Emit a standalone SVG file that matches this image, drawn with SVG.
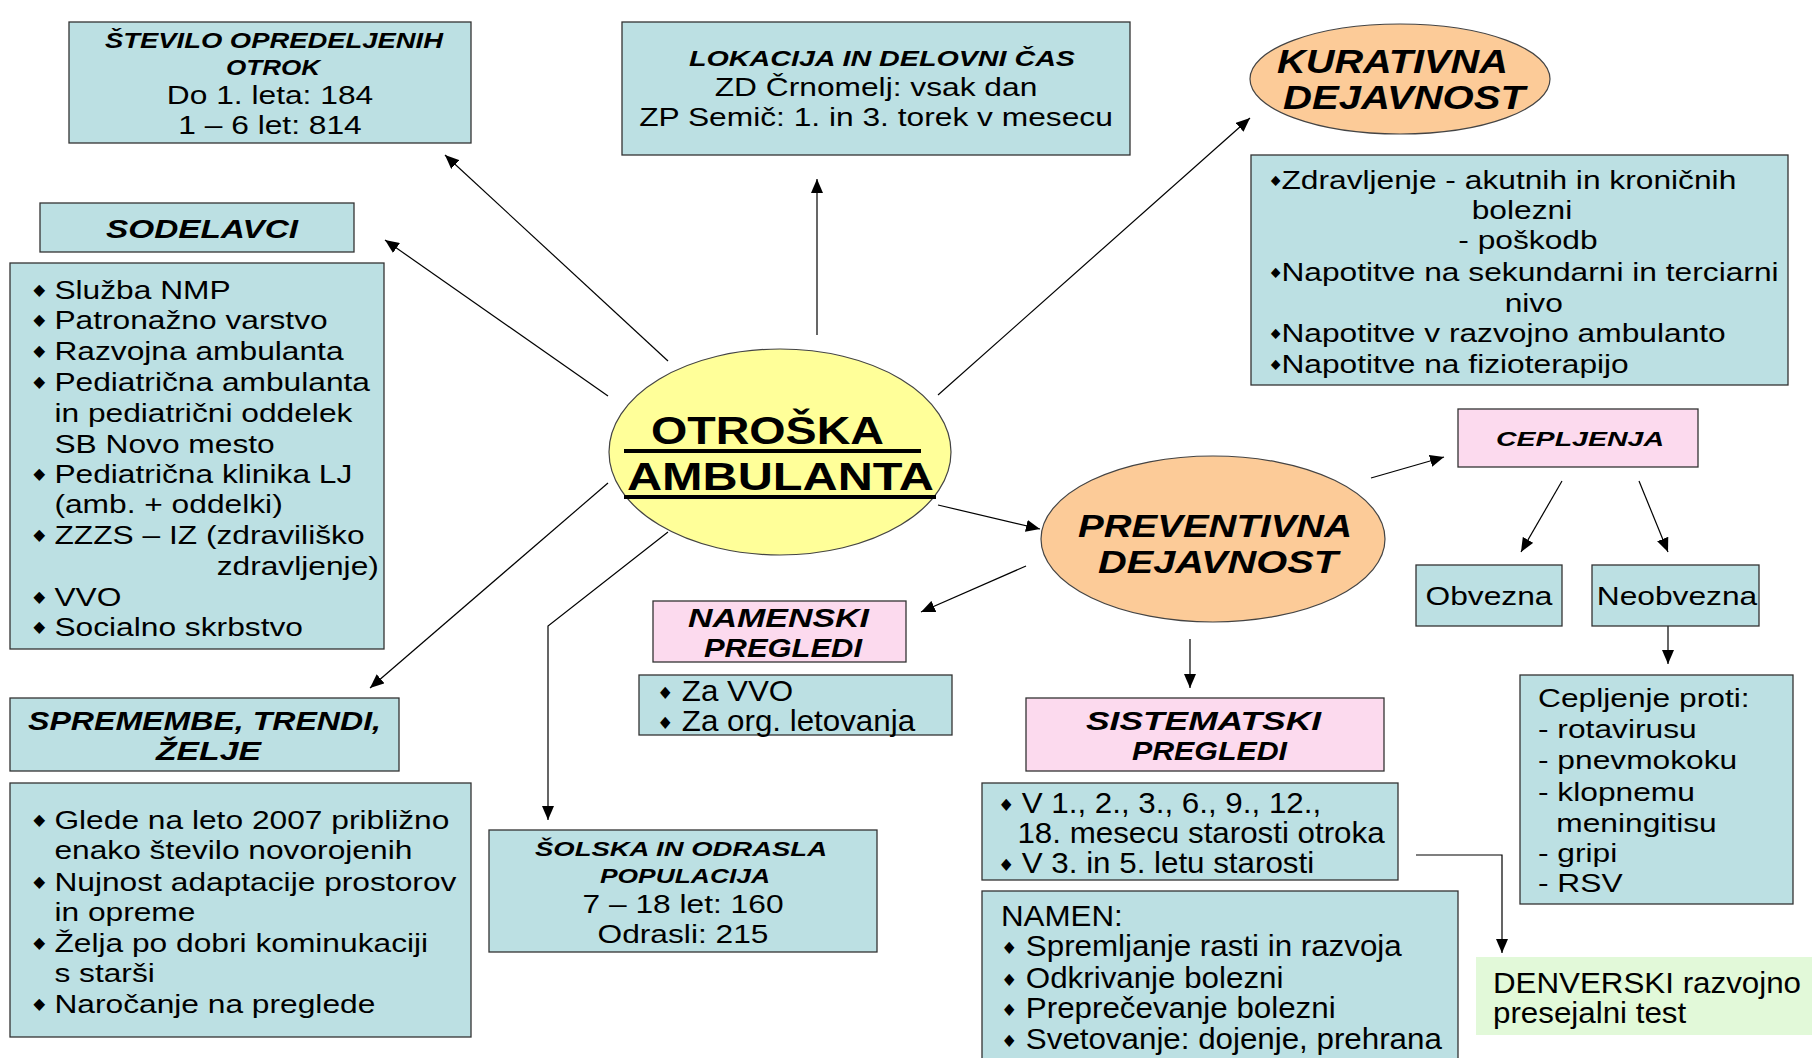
<svg xmlns="http://www.w3.org/2000/svg" width="1812" height="1058" viewBox="0 0 1812 1058">
<style>
.bx{fill:#bce0e3;stroke:#333;stroke-width:1.3}
.pk{fill:#fcdaee;stroke:#333;stroke-width:1.3}
.gr{fill:#e2f9d9;stroke:none}
.or{fill:#fccb98;stroke:#444;stroke-width:1.2}
.ye{fill:#ffff99;stroke:#444;stroke-width:1.2}
.ti{font-family:"Liberation Sans",Arial,sans-serif;font-weight:bold;font-style:italic;fill:#000}
.ce{font-family:"Liberation Sans",Arial,sans-serif;font-weight:bold;fill:#000}
.t{font-family:"Liberation Sans",Arial,sans-serif;font-size:26px;fill:#000}
.n{font-family:"Liberation Sans",Arial,sans-serif;font-size:29px;fill:#000}
.b{font-family:"DejaVu Sans",sans-serif;font-size:17px}
.bs{font-family:"DejaVu Sans",sans-serif;font-size:14px}
.c{text-anchor:middle}
.ln{fill:none;stroke:#000;stroke-width:1.2}
.ul{stroke:#000;stroke-width:4}
</style>
<defs>
<marker id="ah" viewBox="0 0 14 12" refX="14" refY="6" markerWidth="14" markerHeight="12" orient="auto" markerUnits="userSpaceOnUse"><path d="M0,0 L14,6 L0,12 z" fill="#000"/></marker>
</defs>

<g id="connectors">
<line class="ln" x1="668" y1="361" x2="445" y2="155" marker-end="url(#ah)"/>
<line class="ln" x1="608" y1="396" x2="385" y2="240" marker-end="url(#ah)"/>
<line class="ln" x1="817" y1="335" x2="817" y2="179" marker-end="url(#ah)"/>
<line class="ln" x1="938" y1="395" x2="1250" y2="118" marker-end="url(#ah)"/>
<line class="ln" x1="608" y1="483" x2="370" y2="688" marker-end="url(#ah)"/>
<polyline class="ln" points="668,532 548,626 548,820" marker-end="url(#ah)"/>
<line class="ln" x1="938" y1="505" x2="1040" y2="529" marker-end="url(#ah)"/>
<line class="ln" x1="1026" y1="566" x2="921" y2="612" marker-end="url(#ah)"/>
<line class="ln" x1="1190" y1="639" x2="1190" y2="688" marker-end="url(#ah)"/>
<line class="ln" x1="1371" y1="478" x2="1444" y2="457" marker-end="url(#ah)"/>
<line class="ln" x1="1562" y1="481" x2="1521" y2="552" marker-end="url(#ah)"/>
<line class="ln" x1="1639" y1="481" x2="1668" y2="552" marker-end="url(#ah)"/>
<line class="ln" x1="1668" y1="626" x2="1668" y2="664" marker-end="url(#ah)"/>
<polyline class="ln" points="1416,855 1502,855 1502,953" marker-end="url(#ah)"/>
</g>

<g id="stevilo">
<rect class="bx" x="69" y="22" width="402" height="121"/>
<text class="ti c" x="274" y="48" font-size="22" textLength="338" lengthAdjust="spacingAndGlyphs">ŠTEVILO OPREDELJENIH</text>
<text class="ti c" x="273" y="75" font-size="22" textLength="94" lengthAdjust="spacingAndGlyphs">OTROK</text>
<text class="t c" transform="translate(270 104) scale(1.22 1)">Do 1. leta: 184</text>
<text class="t c" transform="translate(270 134) scale(1.22 1)">1 – 6 let: 814</text>
</g>

<g id="lokacija">
<rect class="bx" x="622" y="22" width="508" height="133"/>
<text class="ti c" x="882" y="66" font-size="22" textLength="386" lengthAdjust="spacingAndGlyphs">LOKACIJA IN DELOVNI ČAS</text>
<text class="t c" transform="translate(876 96) scale(1.22 1)">ZD Črnomelj: vsak dan</text>
<text class="t c" transform="translate(876 126) scale(1.22 1)">ZP Semič: 1. in 3. torek v mesecu</text>
</g>

<g id="kurativna">
<ellipse class="or" cx="1400" cy="79" rx="150" ry="55"/>
<text class="ti" x="1277" y="73" font-size="34" textLength="231" lengthAdjust="spacingAndGlyphs">KURATIVNA</text>
<text class="ti" x="1283" y="109" font-size="34" textLength="242" lengthAdjust="spacingAndGlyphs">DEJAVNOST</text>
</g>

<g id="kurativna-list">
<rect class="bx" x="1251" y="155" width="537" height="230"/>
<g transform="translate(1268 0) scale(1.22 1)">
<text class="bs" x="0" y="186">♦</text><text class="t" x="11" y="189">Zdravljenje - akutnih in kroničnih</text>
<text class="t" x="167" y="219">bolezni</text>
<text class="t" x="156" y="249">- poškodb</text>
<text class="bs" x="0" y="278">♦</text><text class="t" x="11" y="281">Napotitve na sekundarni in terciarni</text>
<text class="t" x="194" y="312">nivo</text>
<text class="bs" x="0" y="339">♦</text><text class="t" x="11" y="342">Napotitve v razvojno ambulanto</text>
<text class="bs" x="0" y="370">♦</text><text class="t" x="11" y="373">Napotitve na fizioterapijo</text>
</g>
</g>

<g id="sodelavci">
<rect class="bx" x="40" y="203" width="314" height="49"/>
<text class="ti" x="106" y="238" font-size="26" textLength="192" lengthAdjust="spacingAndGlyphs">SODELAVCI</text>
</g>

<g id="sodelavci-list">
<rect class="bx" x="10" y="263" width="374" height="386"/>
<g transform="translate(30 0) scale(1.22 1)">
<text class="b" x="0" y="297">♦</text><text class="t" x="20" y="299">Služba NMP</text>
<text class="b" x="0" y="327">♦</text><text class="t" x="20" y="329">Patronažno varstvo</text>
<text class="b" x="0" y="358">♦</text><text class="t" x="20" y="360">Razvojna ambulanta</text>
<text class="b" x="0" y="389">♦</text><text class="t" x="20" y="391">Pediatrična ambulanta</text>
<text class="t" x="20" y="422">in pediatrični oddelek</text>
<text class="t" x="20" y="453">SB Novo mesto</text>
<text class="b" x="0" y="481">♦</text><text class="t" x="20" y="483">Pediatrična klinika LJ</text>
<text class="t" x="20" y="513">(amb. + oddelki)</text>
<text class="b" x="0" y="542">♦</text><text class="t" x="20" y="544">ZZZS – IZ (zdraviliško</text>
<text class="t" x="153" y="575">zdravljenje)</text>
<text class="b" x="0" y="604">♦</text><text class="t" x="20" y="606">VVO</text>
<text class="b" x="0" y="634">♦</text><text class="t" x="20" y="636">Socialno skrbstvo</text>
</g>
</g>

<g id="otroska">
<ellipse class="ye" cx="780" cy="452" rx="171" ry="103"/>
<text class="ce" x="651" y="444" font-size="38" textLength="233" lengthAdjust="spacingAndGlyphs">OTROŠKA</text>
<text class="ce" x="627" y="490" font-size="38" textLength="307" lengthAdjust="spacingAndGlyphs">AMBULANTA</text>
<line class="ul" x1="624" y1="451" x2="921" y2="451"/>
<line class="ul" x1="624" y1="497" x2="936" y2="497"/>
</g>

<g id="preventivna">
<ellipse class="or" cx="1213" cy="539" rx="172" ry="83"/>
<text class="ti" x="1078" y="537" font-size="31" textLength="274" lengthAdjust="spacingAndGlyphs">PREVENTIVNA</text>
<text class="ti" x="1098" y="573" font-size="31" textLength="240" lengthAdjust="spacingAndGlyphs">DEJAVNOST</text>
</g>

<g id="cepljenja">
<rect class="pk" x="1458" y="409" width="240" height="58"/>
<text class="ti" x="1496" y="446" font-size="20" textLength="168" lengthAdjust="spacingAndGlyphs">CEPLJENJA</text>
</g>

<g id="obvezna">
<rect class="bx" x="1416" y="565" width="146" height="61"/>
<text class="t c" transform="translate(1489 605) scale(1.22 1)">Obvezna</text>
</g>

<g id="neobvezna">
<rect class="bx" x="1592" y="565" width="167" height="61"/>
<text class="t c" transform="translate(1677 605) scale(1.22 1)">Neobvezna</text>
</g>

<g id="cepljenje-proti">
<rect class="bx" x="1520" y="675" width="273" height="229"/>
<g transform="translate(1538 0) scale(1.22 1)">
<text class="t" x="0" y="707">Cepljenje proti:</text>
<text class="t" x="0" y="738">- rotavirusu</text>
<text class="t" x="0" y="769">- pnevmokoku</text>
<text class="t" x="0" y="801">- klopnemu</text>
<text class="t" x="15" y="832">meningitisu</text>
<text class="t" x="0" y="862">- gripi</text>
<text class="t" x="0" y="892">- RSV</text>
</g>
</g>

<g id="namenski">
<rect class="pk" x="653" y="601" width="253" height="61"/>
<text class="ti" x="688" y="627" font-size="25" textLength="181" lengthAdjust="spacingAndGlyphs">NAMENSKI</text>
<text class="ti" x="704" y="657" font-size="25" textLength="158" lengthAdjust="spacingAndGlyphs">PREGLEDI</text>
</g>

<g id="namenski-list">
<rect class="bx" x="639" y="675" width="313" height="60"/>
<g transform="translate(657 0) scale(1.08 1)">
<text class="b" x="0" y="699">♦</text><text class="n" x="23" y="701">Za VVO</text>
<text class="b" x="0" y="729">♦</text><text class="n" x="23" y="731">Za org. letovanja</text>
</g>
</g>

<g id="sistematski">
<rect class="pk" x="1026" y="698" width="358" height="73"/>
<text class="ti" x="1086" y="730" font-size="25" textLength="235" lengthAdjust="spacingAndGlyphs">SISTEMATSKI</text>
<text class="ti" x="1132" y="760" font-size="25" textLength="155" lengthAdjust="spacingAndGlyphs">PREGLEDI</text>
</g>

<g id="sistematski-list">
<rect class="bx" x="982" y="783" width="416" height="97"/>
<g transform="translate(998 0) scale(1.08 1)">
<text class="b" x="0" y="811">♦</text><text class="n" x="22" y="813">V 1., 2., 3., 6., 9., 12.,</text>
<text class="n" x="18" y="843">18. mesecu starosti otroka</text>
<text class="b" x="0" y="871">♦</text><text class="n" x="22" y="873">V 3. in 5. letu starosti</text>
</g>
</g>

<g id="namen">
<rect class="bx" x="982" y="891" width="476" height="180"/>
<g transform="translate(1001 0) scale(1.08 1)">
<text class="n" x="0" y="926">NAMEN:</text>
<text class="b" x="0" y="954">♦</text><text class="n" x="23" y="956">Spremljanje rasti in razvoja</text>
<text class="b" x="0" y="986">♦</text><text class="n" x="23" y="988">Odkrivanje bolezni</text>
<text class="b" x="0" y="1016">♦</text><text class="n" x="23" y="1018">Preprečevanje bolezni</text>
<text class="b" x="0" y="1047">♦</text><text class="n" x="23" y="1049">Svetovanje: dojenje, prehrana</text>
</g>
</g>

<g id="denverski">
<rect class="gr" x="1476" y="957" width="336" height="78"/>
<g transform="translate(1493 0) scale(1.08 1)">
<text class="n" x="0" y="993">DENVERSKI razvojno</text>
<text class="n" x="0" y="1023">presejalni test</text>
</g>
</g>

<g id="spremembe">
<rect class="bx" x="10" y="698" width="389" height="73"/>
<text class="ti" x="28" y="730" font-size="25" textLength="353" lengthAdjust="spacingAndGlyphs">SPREMEMBE,  TRENDI,</text>
<text class="ti" x="156" y="760" font-size="25" textLength="105" lengthAdjust="spacingAndGlyphs">ŽELJE</text>
</g>

<g id="spremembe-list">
<rect class="bx" x="10" y="783" width="461" height="254"/>
<g transform="translate(30 0) scale(1.22 1)">
<text class="b" x="0" y="827">♦</text><text class="t" x="20" y="829">Glede na leto 2007 približno</text>
<text class="t" x="20" y="859">enako število novorojenih</text>
<text class="b" x="0" y="889">♦</text><text class="t" x="20" y="891">Nujnost adaptacije prostorov</text>
<text class="t" x="20" y="921">in opreme</text>
<text class="b" x="0" y="950">♦</text><text class="t" x="20" y="952">Želja po dobri kominukaciji</text>
<text class="t" x="20" y="982">s starši</text>
<text class="b" x="0" y="1011">♦</text><text class="t" x="20" y="1013">Naročanje na preglede</text>
</g>
</g>

<g id="solska">
<rect class="bx" x="489" y="830" width="388" height="122"/>
<text class="ti" x="535" y="856" font-size="20" textLength="292" lengthAdjust="spacingAndGlyphs">ŠOLSKA IN ODRASLA</text>
<text class="ti" x="600" y="883" font-size="20" textLength="170" lengthAdjust="spacingAndGlyphs">POPULACIJA</text>
<text class="t c" transform="translate(683 913) scale(1.22 1)">7 – 18 let: 160</text>
<text class="t c" transform="translate(683 943) scale(1.22 1)">Odrasli: 215</text>
</g>
</svg>
